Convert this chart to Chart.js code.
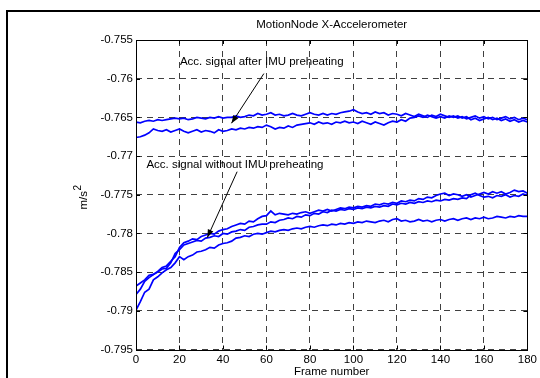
<!DOCTYPE html>
<html>
<head>
<meta charset="utf-8">
<script src="https://cdn.jsdelivr.net/npm/chart.js@4/dist/chart.umd.min.js"></script>
<style>
  html, body { margin: 0; padding: 0; background: #fff; }
  #wrap { position: relative; width: 540px; height: 378px; }
</style>
</head>
<body>
<div id="wrap"><canvas id="accChart" width="540" height="378"></canvas></div>
<script>
"use strict";

const FRAMES = [
  0, 2, 4, 6, 8, 10, 12, 14, 16, 18, 20, 22, 24, 26, 28, 30, 32, 34, 36, 38,
  40, 42, 44, 46, 48, 50, 52, 54, 56, 58, 60, 62, 64, 66, 68, 70, 72, 74, 76, 78,
  80, 82, 84, 86, 88, 90, 92, 94, 96, 98, 100, 102, 104, 106, 108, 110, 112, 114, 116, 118,
  120, 122, 124, 126, 128, 130, 132, 134, 136, 138, 140, 142, 144, 146, 148, 150, 152, 154, 156, 158,
  160, 162, 164, 166, 168, 170, 172, 174, 176, 178, 180,
];

// after IMU preheating
const AFTER_1 = [
  -0.7656, -0.7657, -0.7655, -0.7654, -0.7655, -0.7653, -0.7654, -0.7653, -0.7652, -0.7651,
  -0.7652, -0.7651, -0.7653, -0.7652, -0.7650, -0.7651, -0.7652, -0.7650, -0.7651, -0.7649,
  -0.7651, -0.7650, -0.7650, -0.7648, -0.7650, -0.7649, -0.7647, -0.7648, -0.7645, -0.7647,
  -0.7646, -0.7644, -0.7647, -0.7646, -0.7648, -0.7647, -0.7645, -0.7647, -0.7648, -0.7646,
  -0.7644, -0.7646, -0.7647, -0.7645, -0.7647, -0.7645, -0.7646, -0.7644, -0.7643, -0.7642,
  -0.7640, -0.7643, -0.7645, -0.7644, -0.7646, -0.7643, -0.7645, -0.7644, -0.7647, -0.7645,
  -0.7646, -0.7648, -0.7645, -0.7647, -0.7649, -0.7646, -0.7648, -0.7650, -0.7647, -0.7649,
  -0.7646, -0.7648, -0.7650, -0.7648, -0.7651, -0.7649, -0.7652, -0.7650, -0.7648, -0.7651,
  -0.7649, -0.7652, -0.7650, -0.7653, -0.7651, -0.7649, -0.7652, -0.7650, -0.7653, -0.7651,
  -0.7653,
];
const AFTER_2 = [
  -0.7676, -0.7675, -0.7673, -0.7670, -0.7665, -0.7667, -0.7668, -0.7666, -0.7669, -0.7667,
  -0.7665, -0.7668, -0.7670, -0.7668, -0.7666, -0.7669, -0.7667, -0.7668, -0.7670, -0.7666,
  -0.7668, -0.7667, -0.7665, -0.7666, -0.7664, -0.7665, -0.7663, -0.7664, -0.7662, -0.7663,
  -0.7660, -0.7662, -0.7665, -0.7663, -0.7664, -0.7661, -0.7663, -0.7660, -0.7659, -0.7658,
  -0.7657, -0.7659, -0.7656, -0.7658, -0.7657, -0.7659, -0.7656, -0.7657, -0.7655, -0.7657,
  -0.7656, -0.7658, -0.7655, -0.7657, -0.7659, -0.7656, -0.7658, -0.7660, -0.7657, -0.7655,
  -0.7656, -0.7653, -0.7655, -0.7651, -0.7650, -0.7648, -0.7650, -0.7647, -0.7649, -0.7651,
  -0.7649, -0.7651, -0.7648, -0.7650, -0.7648, -0.7651, -0.7649, -0.7653, -0.7651, -0.7654,
  -0.7652, -0.7650, -0.7653, -0.7651, -0.7654, -0.7652, -0.7655, -0.7653, -0.7656, -0.7654,
  -0.7656,
];

// without IMU preheating
const BEFORE_1 = [
  -0.7868, -0.7864, -0.7860, -0.7854, -0.7853, -0.7849, -0.7844, -0.7842, -0.7836, -0.7830,
  -0.7818, -0.7812, -0.7810, -0.7807, -0.7808, -0.7804, -0.7802, -0.7800, -0.7801, -0.7797,
  -0.7795, -0.7794, -0.7791, -0.7789, -0.7787, -0.7788, -0.7784, -0.7785, -0.7781, -0.7778,
  -0.7777, -0.7771, -0.7776, -0.7774, -0.7775, -0.7776, -0.7774, -0.7775, -0.7773, -0.7772,
  -0.7774, -0.7772, -0.7770, -0.7771, -0.7769, -0.7771, -0.7769, -0.7767, -0.7768, -0.7766,
  -0.7767, -0.7765, -0.7766, -0.7764, -0.7765, -0.7762, -0.7763, -0.7761, -0.7762, -0.7760,
  -0.7761, -0.7758, -0.7759, -0.7757, -0.7758, -0.7755, -0.7756, -0.7753, -0.7754, -0.7751,
  -0.7749, -0.7748, -0.7751, -0.7749, -0.7750, -0.7752, -0.7750, -0.7753, -0.7751, -0.7749,
  -0.7747, -0.7749, -0.7746, -0.7748, -0.7746, -0.7749, -0.7747, -0.7744, -0.7746, -0.7745,
  -0.7748,
];
const BEFORE_2 = [
  -0.7879, -0.7872, -0.7862, -0.7857, -0.7853, -0.7850, -0.7846, -0.7845, -0.7838, -0.7826,
  -0.7821, -0.7815, -0.7813, -0.7811, -0.7809, -0.7810, -0.7806, -0.7805, -0.7803, -0.7804,
  -0.7800, -0.7801, -0.7798, -0.7797, -0.7795, -0.7796, -0.7792, -0.7791, -0.7789, -0.7788,
  -0.7788, -0.7785, -0.7786, -0.7783, -0.7782, -0.7780, -0.7781, -0.7778, -0.7779, -0.7776,
  -0.7777, -0.7774, -0.7775, -0.7772, -0.7773, -0.7770, -0.7771, -0.7769, -0.7770, -0.7768,
  -0.7769, -0.7767, -0.7768, -0.7766, -0.7767, -0.7765, -0.7766, -0.7764, -0.7765, -0.7762,
  -0.7763, -0.7761, -0.7762, -0.7760, -0.7761, -0.7759, -0.7760, -0.7758, -0.7759, -0.7757,
  -0.7758, -0.7756, -0.7757, -0.7755, -0.7756, -0.7754, -0.7755, -0.7750, -0.7748, -0.7751,
  -0.7753, -0.7752, -0.7754, -0.7751, -0.7752, -0.7750, -0.7753, -0.7751, -0.7752, -0.7749,
  -0.7751,
];
const BEFORE_3 = [
  -0.7899, -0.7888, -0.7876, -0.7872, -0.7860, -0.7856, -0.7851, -0.7847, -0.7844, -0.7838,
  -0.7830, -0.7834, -0.7830, -0.7828, -0.7824, -0.7823, -0.7821, -0.7818, -0.7819, -0.7815,
  -0.7813, -0.7812, -0.7810, -0.7806, -0.7805, -0.7803, -0.7804, -0.7801, -0.7800, -0.7801,
  -0.7799, -0.7797, -0.7798, -0.7796, -0.7795, -0.7796, -0.7794, -0.7793, -0.7794, -0.7792,
  -0.7791, -0.7792, -0.7790, -0.7789, -0.7790, -0.7788, -0.7789, -0.7787, -0.7788, -0.7786,
  -0.7787, -0.7785, -0.7786, -0.7784, -0.7785, -0.7786, -0.7784, -0.7783, -0.7785, -0.7782,
  -0.7781, -0.7784, -0.7783, -0.7785, -0.7784, -0.7782, -0.7784, -0.7783, -0.7785, -0.7783,
  -0.7782, -0.7784, -0.7782, -0.7781, -0.7783, -0.7781, -0.7780, -0.7782, -0.7780, -0.7781,
  -0.7779, -0.7781, -0.7780, -0.7778, -0.7779, -0.7780, -0.7778, -0.7779, -0.7777, -0.7778,
  -0.7778,
];

const X_MIN = 0, X_MAX = 180, X_STEP = 20;
const Y_MIN = -0.795, Y_MAX = -0.755, Y_STEP = 0.005;

const TITLE = "MotionNode X-Accelerometer";
const X_TITLE = "Frame number";

// text anchor and arrow (from -> tip), in data units
const NOTES = [
  { text: "Acc. signal after IMU preheating", tx: 20.2, ty: -0.75784,
    fx: 58.8, fy: -0.75934, ax: 43.9, ay: -0.76576 },
  { text: "Acc. signal without IMU preheating", tx: 4.8, ty: -0.77115,
    fx: 46.5, fy: -0.77202, ax: 32.8, ay: -0.78053 },
];

const FONT = '11.5px "Liberation Sans", Arial, sans-serif';
const BLUE = "#0000ff";
const GRID = "#404040";

function series(values) {
  return values.map((v, i) => ({ x: FRAMES[i], y: v }));
}

const frameAndNotes = {
  id: "frameAndNotes",
  afterDraw(chart) {
    const { ctx, chartArea: a } = chart;
    const xs = chart.scales.x, ys = chart.scales.y;
    ctx.save();

    // outer figure frame
    ctx.strokeStyle = "#000";
    ctx.lineWidth = 2;
    ctx.beginPath();
    ctx.moveTo(7, 380);
    ctx.lineTo(7, 11);
    ctx.lineTo(545, 11);
    ctx.stroke();

    // axes box + inward ticks
    ctx.lineWidth = 1;
    ctx.strokeRect(Math.round(a.left) + 0.5, Math.round(a.top) + 0.5,
      Math.round(a.right - a.left), Math.round(a.bottom - a.top));
    ctx.beginPath();
    for (let v = X_MIN; v <= X_MAX; v += X_STEP) {
      const px = Math.round(xs.getPixelForValue(v)) + 0.5;
      ctx.moveTo(px, a.bottom); ctx.lineTo(px, a.bottom - 4);
      ctx.moveTo(px, a.top); ctx.lineTo(px, a.top + 4);
    }
    for (let i = 0; i <= Math.round((Y_MAX - Y_MIN) / Y_STEP); i++) {
      const py = Math.round(ys.getPixelForValue(Y_MIN + i * Y_STEP)) + 0.5;
      ctx.moveTo(a.left, py); ctx.lineTo(a.left + 4, py);
      ctx.moveTo(a.right, py); ctx.lineTo(a.right - 4, py);
    }
    ctx.stroke();

    ctx.fillStyle = "#000";
    ctx.font = FONT;
    ctx.textBaseline = "middle";
    ctx.textAlign = "center";
    const cx = (a.left + a.right) / 2;
    ctx.fillText(TITLE, cx, 25);
    ctx.fillText(X_TITLE, cx, 372);

    // y title m/s^2
    ctx.save();
    ctx.translate(84, (a.top + a.bottom) / 2 + 2);
    ctx.rotate(-Math.PI / 2);
    ctx.textAlign = "left";
    const w = ctx.measureText("m/s").width;
    const sw = 7;
    ctx.fillText("m/s", -(w + sw) / 2, 0);
    ctx.font = '10px "Liberation Sans", Arial, sans-serif';
    ctx.fillText("2", -(w + sw) / 2 + w + 0.5, -6);
    ctx.restore();

    // annotations
    ctx.font = FONT;
    ctx.textAlign = "left";
    NOTES.forEach((n) => {
      ctx.fillText(n.text, xs.getPixelForValue(n.tx), ys.getPixelForValue(n.ty));
      const x1 = xs.getPixelForValue(n.fx), y1 = ys.getPixelForValue(n.fy);
      const x2 = xs.getPixelForValue(n.ax), y2 = ys.getPixelForValue(n.ay);
      ctx.lineWidth = 1;
      ctx.beginPath();
      ctx.moveTo(x1, y1);
      ctx.lineTo(x2, y2);
      ctx.stroke();
      const ang = Math.atan2(y2 - y1, x2 - x1);
      const L = 8, H = 3;
      ctx.beginPath();
      ctx.moveTo(x2, y2);
      ctx.lineTo(x2 - L * Math.cos(ang) + H * Math.sin(ang), y2 - L * Math.sin(ang) - H * Math.cos(ang));
      ctx.lineTo(x2 - L * Math.cos(ang) - H * Math.sin(ang), y2 - L * Math.sin(ang) + H * Math.cos(ang));
      ctx.closePath();
      ctx.fill();
    });
    ctx.restore();
  },
};

const lineBase = {
  borderColor: BLUE,
  borderWidth: 1.7,
  pointRadius: 0,
  tension: 0,
  fill: false,
};

new Chart(document.getElementById("accChart"), {
  type: "line",
  plugins: [frameAndNotes],
  data: {
    datasets: [
      { ...lineBase, label: "after 1", data: series(AFTER_1) },
      { ...lineBase, label: "after 2", data: series(AFTER_2) },
      { ...lineBase, label: "without 1", data: series(BEFORE_1) },
      { ...lineBase, label: "without 2", data: series(BEFORE_2) },
      { ...lineBase, label: "without 3", data: series(BEFORE_3) },
    ],
  },
  options: {
    responsive: false,
    animation: false,
    events: [],
    layout: { padding: { top: 40, right: 12, left: 0, bottom: 0 } },
    plugins: { legend: { display: false }, tooltip: { enabled: false } },
    scales: {
      x: {
        type: "linear",
        min: X_MIN,
        max: X_MAX,
        afterFit: (s) => { s.height = 28.5; },
        ticks: {
          stepSize: X_STEP,
          color: "#000",
          font: { family: '"Liberation Sans", Arial, sans-serif', size: 11.5 },
          padding: 3,
          maxRotation: 0,
        },
        grid: { color: GRID, lineWidth: 1, drawTicks: false },
        border: { display: false, dash: [6, 5] },
      },
      y: {
        min: Y_MIN,
        max: Y_MAX,
        afterFit: (s) => { s.width = 136; },
        ticks: {
          stepSize: Y_STEP,
          color: "#000",
          font: { family: '"Liberation Sans", Arial, sans-serif', size: 11.5 },
          padding: 3,
          callback: (v) => String(parseFloat(v.toFixed(3))),
        },
        grid: { color: GRID, lineWidth: 1, drawTicks: false },
        border: { display: false, dash: [6, 5] },
      },
    },
  },
});
</script>
</body>
</html>
